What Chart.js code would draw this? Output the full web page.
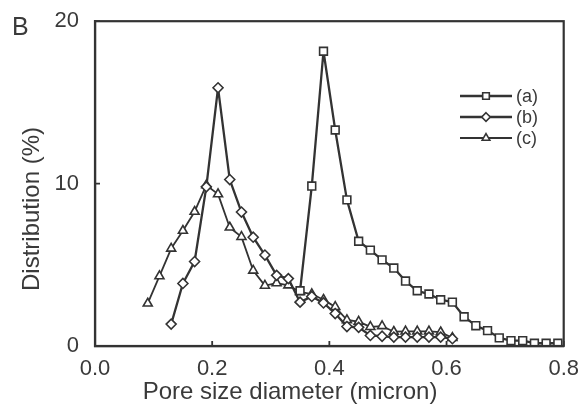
<!DOCTYPE html>
<html><head><meta charset="utf-8">
<script src="https://cdn.jsdelivr.net/npm/chart.js@4"></script>
<style>html,body{margin:0;padding:0;background:#fff}canvas{display:block}</style>
</head><body>
<canvas id="c" width="581" height="404"></canvas>
<script>
// ---- data ----
const labels = ['(a)', '(b)', '(c)'];
const xA = [0.35,0.37,0.39,0.41,0.43,0.45,0.47,0.49,0.51,0.53,0.55,0.57,0.59,0.61,0.63,0.65,0.67,0.69,0.71,0.73,0.75,0.77,0.79];
const yA = [3.4,9.85,18.15,13.3,9.0,6.45,5.9,5.3,4.8,4.0,3.4,3.2,2.85,2.7,1.8,1.25,0.95,0.5,0.33,0.33,0.17,0.17,0.17];
const xB = [0.13,0.15,0.17,0.19,0.21,0.23,0.25,0.27,0.29,0.31,0.33,0.35,0.37,0.39,0.41,0.43,0.45,0.47,0.49,0.51,0.53,0.55,0.57,0.59,0.61];
const yB = [1.35,3.85,5.2,9.8,15.9,10.25,8.25,6.7,5.6,4.35,4.15,2.7,3.05,2.65,2.0,1.2,1.15,0.65,0.6,0.55,0.55,0.55,0.55,0.55,0.45];
const xC = [0.09,0.11,0.13,0.15,0.17,0.19,0.21,0.23,0.25,0.27,0.29,0.31,0.33,0.35,0.37,0.39,0.41,0.43,0.45,0.47,0.49,0.51,0.53,0.55,0.57,0.59,0.61];
const yC = [2.62,4.3,6.0,7.1,8.27,9.9,9.35,7.3,6.72,4.65,3.72,3.87,3.74,3.33,3.2,2.85,2.41,1.6,1.5,1.18,1.23,0.88,0.9,0.9,0.9,0.85,0.5];
const xTicks = [0, 0.2, 0.4, 0.6, 0.8];
const yTicks = [0, 10, 20];
const xTitle = 'Pore size diameter (micron)';
const yTitle = 'Distribution (%)';
const panelLabel = 'B';

const INK = '#333';
const TXT = '#3a3a3a';
const FONT = "'Liberation Sans', Arial, sans-serif";
const styles = [
  {pointStyle: 'rect', radius: 5.5, width: 2.3},
  {pointStyle: 'rectRot', radius: 5, width: 2.3},
  {pointStyle: 'triangle', radius: 5.2, width: 1.8}
];
const series = [[xA, yA], [xB, yB], [xC, yC]];

const datasets = series.map((s, i) => ({
  label: labels[i],
  data: s[0].map((x, j) => ({x, y: s[1][j]})),
  showLine: true,
  borderColor: INK,
  borderWidth: styles[i].width,
  borderJoinStyle: 'round',
  pointStyle: styles[i].pointStyle,
  pointRadius: styles[i].radius,
  pointBackgroundColor: '#fff',
  pointBorderColor: INK,
  pointBorderWidth: 1.6,
  tension: 0
}));

function drawMarker(ctx, style, r, x, y) {
  ctx.beginPath();
  if (style === 'rect') {
    const s = Math.SQRT1_2 * r;
    ctx.rect(x - s, y - s, 2 * s, 2 * s);
  } else if (style === 'rectRot') {
    ctx.moveTo(x, y - r); ctx.lineTo(x + r, y); ctx.lineTo(x, y + r); ctx.lineTo(x - r, y); ctx.closePath();
  } else {
    const a = Math.PI / 2, s3 = 2 * Math.PI / 3;
    ctx.moveTo(x + Math.cos(-a) * r, y + Math.sin(-a) * r);
    ctx.lineTo(x + Math.cos(-a + s3) * r, y + Math.sin(-a + s3) * r);
    ctx.lineTo(x + Math.cos(-a - s3) * r, y + Math.sin(-a - s3) * r);
    ctx.closePath();
  }
  ctx.fillStyle = '#fff'; ctx.fill();
  ctx.lineWidth = 1.6; ctx.strokeStyle = INK; ctx.stroke();
}

const decor = {
  id: 'decor',
  afterDraw(chart) {
    const {ctx, chartArea: {left, right, top, bottom}, scales: {x, y}} = chart;
    ctx.save();
    ctx.strokeStyle = INK; ctx.lineWidth = 2.2;
    ctx.strokeRect(left, top, right - left, bottom - top);
    ctx.beginPath(); ctx.lineWidth = 1.8;
    xTicks.forEach(v => { const p = x.getPixelForValue(v); ctx.moveTo(p, bottom); ctx.lineTo(p, bottom - 5); });
    yTicks.forEach(v => { const p = y.getPixelForValue(v); ctx.moveTo(left, p); ctx.lineTo(left + 5, p); });
    ctx.stroke();
    ctx.fillStyle = TXT;
    ctx.font = '24px ' + FONT;
    ctx.textAlign = 'center'; ctx.textBaseline = 'middle';
    ctx.fillText(xTitle, 290, 392);
    ctx.save(); ctx.translate(32, 209); ctx.rotate(-Math.PI / 2);
    ctx.fillText(yTitle, 0, 0); ctx.restore();
    ctx.font = '25px ' + FONT; ctx.textAlign = 'left'; ctx.textBaseline = 'alphabetic';
    ctx.fillText(panelLabel, 12, 35);
    const rows = [96, 117, 138];
    ctx.font = '18px ' + FONT; ctx.textBaseline = 'middle';
    labels.forEach((lab, i) => {
      const ry = rows[i];
      ctx.beginPath(); ctx.strokeStyle = INK; ctx.lineWidth = styles[i].width;
      ctx.moveTo(460, ry); ctx.lineTo(512, ry); ctx.stroke();
      drawMarker(ctx, styles[i].pointStyle, styles[i].radius * 0.85, 486, ry);
      ctx.fillStyle = TXT; ctx.fillText(lab, 516, ry + 1);
    });
    ctx.restore();
  }
};

new Chart(document.getElementById('c'), {
  type: 'scatter',
  data: {datasets},
  plugins: [decor],
  options: {
    responsive: false,
    animation: false,
    layout: {padding: {top: 20, right: 14, left: 0, bottom: 0}},
    plugins: {legend: {display: false}, tooltip: {enabled: false}},
    scales: {
      x: {
        type: 'linear', min: 0, max: 0.8,
        afterFit: s => { s.height = 58; },
        afterBuildTicks: s => { s.ticks = xTicks.map(v => ({value: v})); },
        grid: {display: false},
        border: {display: true, color: INK, width: 2.2},
        ticks: {color: TXT, font: {family: FONT, size: 22}, padding: 2, maxRotation: 0,
                callback: v => Number(v).toFixed(1)}
      },
      y: {
        type: 'linear', min: 0, max: 20,
        afterFit: s => { s.width = 95; },
        afterBuildTicks: s => { s.ticks = yTicks.map(v => ({value: v})); },
        grid: {display: false},
        border: {display: true, color: INK, width: 2.2},
        ticks: {color: TXT, font: {family: FONT, size: 22}, padding: 8,
                callback: v => String(v)}
      }
    }
  }
});
</script>
</body></html>
